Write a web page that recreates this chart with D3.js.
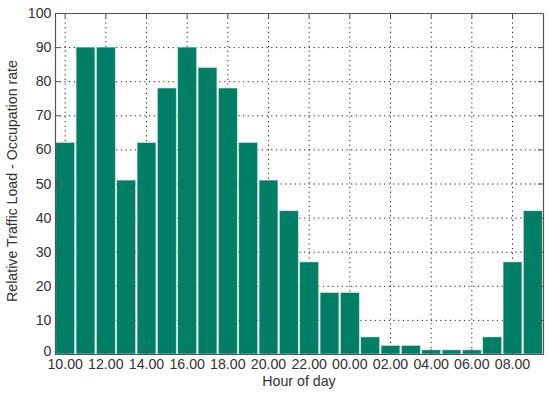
<!DOCTYPE html>
<html>
<head>
<meta charset="utf-8">
<script src="https://cdn.jsdelivr.net/npm/d3@7"></script>
<style>
  body { margin: 0; background: #fff; }
  svg text { font-family: "Liberation Sans", Arial, sans-serif; fill: #333; }
</style>
</head>
<body>
<div id="chart"></div>
<script>
// hour of day for each bar
const hours = ['10.00', '11.00', '12.00', '13.00', '14.00', '15.00', '16.00', '17.00',
    '18.00', '19.00', '20.00', '21.00', '22.00', '23.00', '00.00', '01.00',
    '02.00', '03.00', '04.00', '05.00', '06.00', '07.00', '08.00', '09.00'];
// relative traffic load (occupation rate, %)
const load = [62, 90, 90, 51, 62, 78, 90, 84, 78, 62, 51, 42,
    27, 18, 18, 5, 2.5, 2.5, 1.2, 1.2, 1.2, 5, 27, 42];
const xTicks = ['10.00', '12.00', '14.00', '16.00', '18.00', '20.00',
    '22.00', '00.00', '02.00', '04.00', '06.00', '08.00'];
const yTicks = [0, 10, 20, 30, 40, 50, 60, 70, 80, 90, 100];

const fmt = {
    width: 550, height: 395,
    margins: {left: 55, right: 7, top: 13, bottom: 41},
    color: '#007f66',
    fontSize: 14.2
};

let width = fmt.width - fmt.margins.left - fmt.margins.right,
    height = fmt.height - fmt.margins.top - fmt.margins.bottom;

let x = d3.scaleBand().domain(hours).range([0, width]).padding(0),
    y = d3.scaleLinear().domain([0, 100]).range([height, 0]);

let svg = d3.select('#chart').append('svg')
    .attr('width', fmt.width)
    .attr('height', fmt.height);

let g = svg.append('g')
    .attr('transform', 'translate(' + fmt.margins.left + ',' + fmt.margins.top + ')');

// dotted grid
g.append('g').selectAll('line.vg')
    .data(xTicks)
    .enter().append('line')
    .attr('x1', (d) => x(d) + x.bandwidth()/2)
    .attr('x2', (d) => x(d) + x.bandwidth()/2)
    .attr('y1', 0).attr('y2', height)
    .attr('stroke', '#222').attr('stroke-width', 1)
    .attr('stroke-dasharray', '1.2,3.5');

g.append('g').selectAll('line.hg')
    .data(yTicks.slice(1, -1))
    .enter().append('line')
    .attr('x1', 0).attr('x2', width)
    .attr('y1', (d) => y(d) + 0.5)
    .attr('y2', (d) => y(d) + 0.5)
    .attr('stroke', '#222').attr('stroke-width', 1)
    .attr('stroke-dasharray', '1.2,3.5');

// bars
g.selectAll('.bar')
    .data(load)
    .enter().append('rect')
    .attr('x', (_, i) => x(hours[i]) + 0.75)
    .attr('width', x.bandwidth() - 1.5)
    .attr('y', (d) => y(d))
    .attr('height', (d) => height - y(d))
    .attr('fill', fmt.color)
    .attr('stroke', '#cfe3dd')
    .attr('stroke-width', 0.6);

// axes (ticks inside, box round the plot)
let xAxis = d3.axisBottom(x).tickValues(xTicks).tickSizeInner(-5).tickSizeOuter(0).tickPadding(5);
let yAxis = d3.axisLeft(y).tickValues(yTicks).tickSizeInner(-5).tickSizeOuter(0).tickPadding(3.5);

let bottom = g.append('g')
    .attr('transform', 'translate(0,' + height + ')')
    .call(xAxis);
let left = g.append('g').call(yAxis);

g.append('g')
    .call(d3.axisTop(x).tickValues(xTicks).tickSizeInner(-5).tickSizeOuter(0).tickFormat(''));
g.append('g')
    .attr('transform', 'translate(' + width + ',0)')
    .call(d3.axisRight(y).tickValues(yTicks).tickSizeInner(-5).tickSizeOuter(0).tickFormat(''));

g.selectAll('.domain').attr('stroke', '#555').attr('stroke-width', 1.2);
g.selectAll('.tick line').attr('stroke', '#555');
bottom.selectAll('text').attr('font-size', fmt.fontSize).attr('fill', '#333');
left.selectAll('text').attr('font-size', fmt.fontSize).attr('fill', '#333');
// the "0" label sits just above the x labels, as in the original
left.selectAll('.tick').filter((d) => d === 0).select('text').attr('dy', '0.1em');

// axis labels
svg.append('text')
    .attr('x', fmt.margins.left + width/2)
    .attr('y', 386)
    .attr('text-anchor', 'middle')
    .attr('font-size', fmt.fontSize)
    .text('Hour of day');

svg.append('text')
    .attr('transform', 'translate(17,181) rotate(-90)')
    .attr('text-anchor', 'middle')
    .attr('font-size', fmt.fontSize)
    .text('Relative Traffic Load - Occupation rate');
</script>
</body>
</html>
